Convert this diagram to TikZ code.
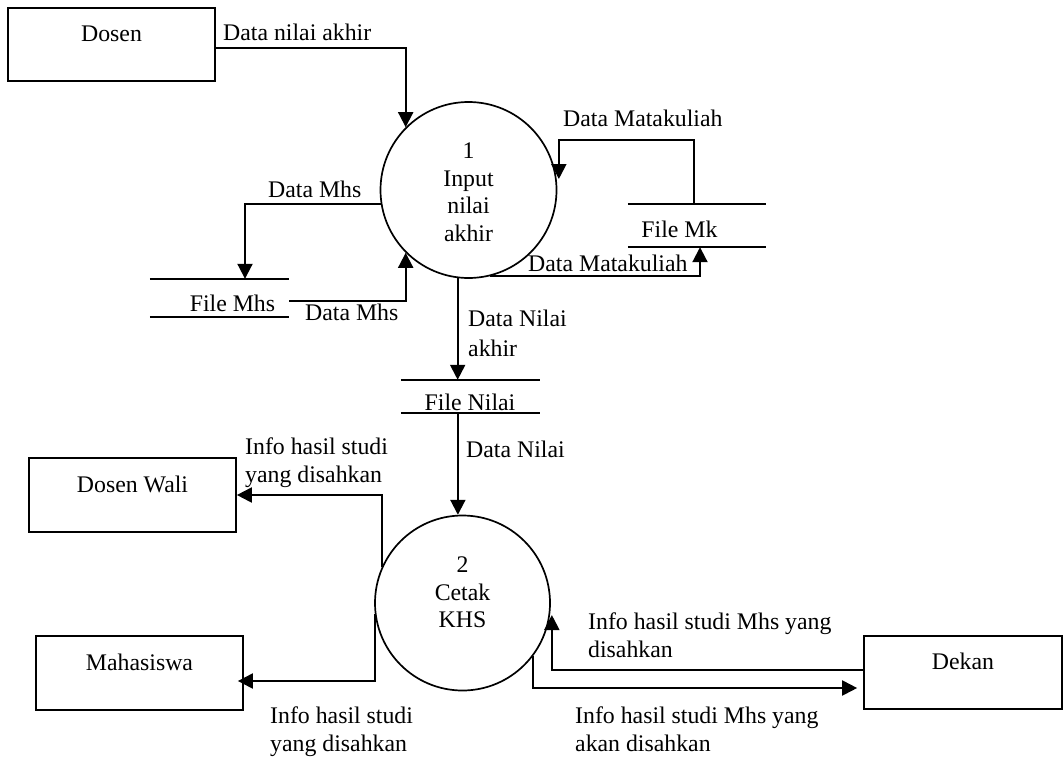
\documentclass[tikz,border=0pt]{standalone}
\usepackage{fontspec}
\setmainfont{Liberation Serif}
\usetikzlibrary{arrows.meta}
\begin{document}
\begin{tikzpicture}[x=1pt,y=-1pt,
  font=\fontsize{23.8pt}{27.5pt}\selectfont,
  entity/.style={draw, line width=1.7pt, rectangle, inner sep=0pt,
                 text height=16pt, text depth=22pt},
  process/.style={draw, line width=1.7pt, circle, inner sep=0pt, align=center},
  store/.style={inner sep=0pt},
  storeline/.style={line width=1.8pt},
  flow/.style={line width=2pt, -{Triangle[length=15pt,width=15pt]}},
  lbl/.style={inner sep=0pt, align=left}]
\path[fill=white, use as bounding box] (0,0) rectangle (1064,757);

% external entities
\node[entity, minimum width=207pt, minimum height=73pt] (dosen) at (111.5,44.5) {Dosen};
\node[entity, minimum width=207pt, minimum height=74pt] (wali)  at (132.5,495)  {Dosen Wali};
\node[entity, minimum width=207pt, minimum height=74pt] (mhs)   at (139.5,673)  {Mahasiswa};
\node[entity, minimum width=198pt, minimum height=73pt] (dekan) at (963,672.5)  {Dekan};

% processes
\node[process, minimum size=176pt,
      label={[align=center, yshift=-2.5pt]center:1\\Input\\nilai\\akhir}] (p1) at (468.5,190) {};
\node[process, minimum size=175pt,
      label={[align=center, yshift=10.5pt]center:2\\Cetak\\KHS}] (p2) at (462.5,603) {};

% data stores
\node[store, minimum width=139pt, minimum height=38pt,
      label={[xshift=13pt, yshift=-5pt]center:File Mhs}] (fmhs) at (219.5,298) {};
\node[store, minimum width=138pt, minimum height=43pt,
      label={[xshift=-17.5pt, yshift=-3.5pt]center:File Mk}] (fmk) at (697,225.5) {};
\node[store, minimum width=139pt, minimum height=33pt,
      label={[xshift=-0.5pt, yshift=-5.5pt]center:File Nilai}] (fnilai) at (470.5,396.5) {};
\foreach \s in {fmhs,fmk,fnilai}{
  \draw[storeline] (\s.north west) -- (\s.north east) (\s.south west) -- (\s.south east);
}

% data flows
\draw[flow] ([yshift=-3.5pt]dosen.east) -| (p1.135);
\draw[flow] (p1.189) -| ([xshift=25.5pt]fmhs.north);
\draw[flow] ([yshift=-3pt]fmhs.east) -| (p1.225);
\draw[flow] ([xshift=-3pt]fmk.north) -- ++(0,-64) -| ([xshift=1.5pt, yshift=11pt]p1.east);
\draw[flow] (p1.284) -| ([xshift=3pt]fmk.south);
\draw[flow] (p1.263) -- (p1.263 |- fnilai.north);
\draw[flow] (p2.93 |- fnilai.south) -- (p2.93);
\draw[flow] (p2.156) |- (wali.east);
\draw[flow] (p2.187) |- ([xshift=-6pt, yshift=-8pt]mhs.east);
\draw[flow] ([yshift=2.5pt]dekan.west) -| ([xshift=1pt, yshift=-12pt]p2.east);
\draw[flow] (p2.323) |- ([xshift=-6pt, yshift=-15.5pt]dekan.west);

% flow labels
\node[lbl, anchor=base west]  (l1)  at (223,41)  {Data nilai akhir};
\node[lbl, anchor=base west]  (l2)  at (268,197) {Data Mhs};
\node[lbl, anchor=base west]  (l3)  at (305,320) {Data Mhs};
\node[lbl, anchor=base west]  (l4)  at (563,126) {Data Matakuliah};
\node[lbl, anchor=base west]  (l5)  at (528,271) {Data Matakuliah};
\node[lbl, anchor=north west] (l6)  at (468,310) {Data Nilai\\[2.5pt]akhir};
\node[lbl, anchor=base west]  (l7)  at (466,457) {Data Nilai};
\node[lbl, anchor=north west] (l8)  at (245,438) {Info hasil studi\\yang disahkan};
\node[lbl, anchor=north west] (l9)  at (270,707) {Info hasil studi\\yang disahkan};
\node[lbl, anchor=north west] (l10) at (588,613) {Info hasil studi Mhs yang\\disahkan};
\node[lbl, anchor=north west] (l11) at (575,707) {Info hasil studi Mhs yang\\akan disahkan};
\end{tikzpicture}
\end{document}
